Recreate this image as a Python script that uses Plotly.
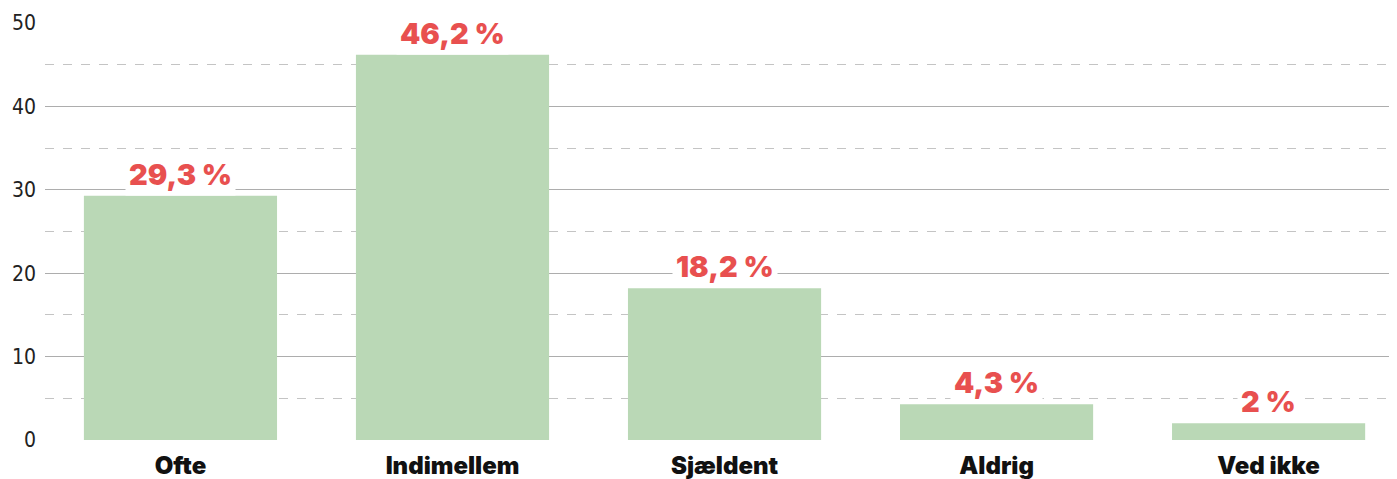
import plotly.graph_objects as go

categories = ["Ofte", "Indimellem", "Sjældent", "Aldrig", "Ved ikke"]
values = [29.3, 46.2, 18.2, 4.3, 2]
value_labels = ["29,3 %", "46,2 %", "18,2 %", "4,3 %", "2 %"]
y_ticks = [0, 10, 20, 30, 40, 50]

fig = go.Figure()
fig.add_trace(go.Bar(
    x=categories, y=values, marker_color="#bad8b6", marker_line_width=0,
    width=0.71, hoverinfo="skip",
))

for c, v, t in zip(categories, values, value_labels):
    fig.add_annotation(
        x=c, y=v, text=t, showarrow=False, yanchor="bottom", yshift=0,
        font=dict(family="Inter", size=29, color="#e8504f", weight=900),
        bgcolor="white", borderpad=3,
    )

fig.update_layout(
    width=1397, height=479,
    margin=dict(l=37, r=8, t=15, b=47),
    paper_bgcolor="white", plot_bgcolor="white",
    showlegend=False,
    xaxis=dict(
        range=[-0.498, 4.472], showgrid=False, showline=False, ticks="",
        tickfont=dict(family="Inter", size=24, color="#111", weight=900),
        ticklabelstandoff=9, automargin=False,
    ),
    yaxis=dict(
        range=[0, 50], tickvals=y_ticks, showgrid=True, gridcolor="#adadad",
        gridwidth=1, zeroline=False, showline=False, ticks="",
        tickfont=dict(family="DejaVu Sans Condensed, Roboto, sans-serif", size=21, color="#222"),
        ticklabelstandoff=8, automargin=False,
        minor=dict(dtick=5, tick0=5, showgrid=True, gridcolor="#c4c4c4",
                   griddash="dash", gridwidth=1),
    ),
)

fig.write_html("out.html")
